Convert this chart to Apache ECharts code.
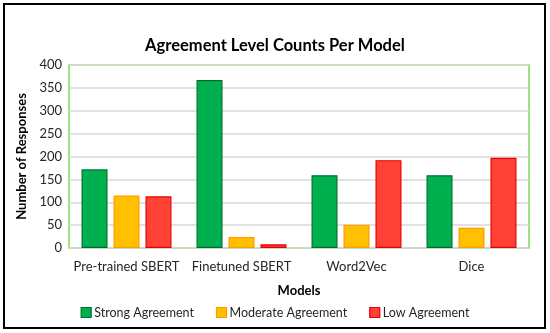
<!DOCTYPE html>
<html><head><meta charset="utf-8">
<script src="https://cdn.jsdelivr.net/npm/echarts@6/dist/echarts.min.js"></script>
<style>html,body{margin:0;padding:0;background:#fff}#c{width:550px;height:333px}</style>
</head><body><div id="c"></div>
<script>
const categories = ['Pre-trained SBERT', 'Finetuned SBERT', 'Word2Vec', 'Dice'];
const strongAgreement = [172, 367, 159, 159];
const moderateAgreement = [115, 24, 51, 44];
const lowAgreement = [113, 8, 192, 197];
const yTicks = [0, 50, 100, 150, 200, 250, 300, 350, 400];

const FONT = 'Lato';
const chart = echarts.init(document.getElementById('c'), null, {renderer: 'canvas'});
chart.setOption({
  animation: false,
  backgroundColor: '#fff',
  textStyle: {fontFamily: FONT},
  title: {
    text: 'Agreement Level Counts Per Model',
    left: 'center', top: 32,
    textStyle: {fontFamily: FONT, fontSize: 16.5, fontWeight: 'bold', color: '#000'}
  },
  graphic: [{
    type: 'rect', shape: {x: 4, y: 4, width: 541, height: 324},
    style: {fill: 'none', stroke: '#000', lineWidth: 2}, silent: true
  }],
  legend: {
    top: 301, left: 'center',
    itemWidth: 10, itemHeight: 10, itemGap: 22,
    icon: 'rect',
    textStyle: {fontFamily: FONT, fontSize: 12.5, color: '#262626', padding: [0, 0, 0, -2]},
    data: [
      {name: 'Strong Agreement', itemStyle: {color: '#00B04F', borderColor: '#00702F', borderWidth: 1.2}},
      {name: 'Moderate Agreement', itemStyle: {color: '#FFC000', borderColor: '#FF9A00', borderWidth: 1.2}},
      {name: 'Low Agreement', itemStyle: {color: '#FF4136', borderColor: '#E60000', borderWidth: 1.2}}
    ]
  },
  grid: {left: 69, right: 21, top: 65, bottom: 85, show: true, borderColor: '#7ED957', borderWidth: 1.5, containLabel: false},
  xAxis: {
    type: 'category', data: categories,
    name: 'Models', nameLocation: 'middle', nameGap: 36,
    nameTextStyle: {fontFamily: FONT, fontSize: 13, fontWeight: 'bold', color: '#000'},
    axisLine: {show: false}, axisTick: {show: false},
    axisLabel: {interval: 0, fontFamily: FONT, fontSize: 13, color: '#262626', margin: 12}
  },
  yAxis: {
    type: 'value', min: 0, max: 400, interval: 50,
    name: 'Number of Responses', nameLocation: 'middle', nameGap: 40, nameRotate: 90,
    nameTextStyle: {fontFamily: FONT, fontSize: 13, fontWeight: 'bold', color: '#000'},
    axisLine: {show: false}, axisTick: {show: false},
    axisLabel: {fontFamily: FONT, fontSize: 13, color: '#262626', margin: 7,
      formatter: v => yTicks.includes(v) ? String(v) : ''},
    splitLine: {lineStyle: {color: '#D9D9D9', width: 1.5}}
  },
  series: [
    {name: 'Strong Agreement', type: 'bar', data: strongAgreement, barWidth: 26, barGap: '23%',
     itemStyle: {color: '#00B04F', borderColor: '#00702F', borderWidth: 1.2}},
    {name: 'Moderate Agreement', type: 'bar', data: moderateAgreement, barWidth: 26, barGap: '23%',
     itemStyle: {color: '#FFC000', borderColor: '#FF9A00', borderWidth: 1.2}},
    {name: 'Low Agreement', type: 'bar', data: lowAgreement, barWidth: 26, barGap: '23%',
     itemStyle: {color: '#FF4136', borderColor: '#E60000', borderWidth: 1.2}}
  ]
});
</script></body></html>
